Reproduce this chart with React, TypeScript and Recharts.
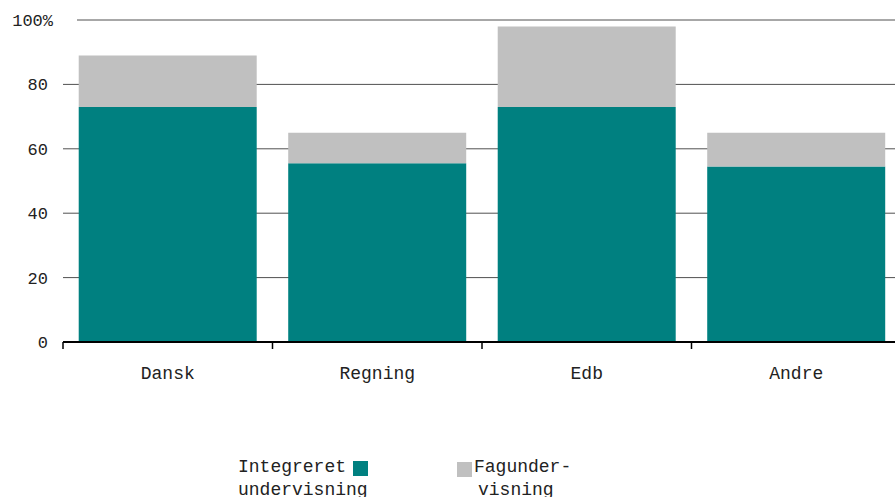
import { BarChart, Bar, XAxis, YAxis, CartesianGrid, Legend } from "recharts";

const categories = ["Dansk", "Regning", "Edb", "Andre"];
const integreret = [73, 55.5, 73, 54.5];
const fagundervisning = [16, 9.5, 25, 10.5];
const yTicks = [0, 20, 40, 60, 80, 100];

const TEAL = "#008080";
const GREY = "#c0c0c0";
const MONO = "'Liberation Mono', 'DejaVu Sans Mono', monospace";
const TOP = 20;

const data = categories.map((c, i) => ({
  name: c,
  integ: integreret[i],
  fag: fagundervisning[i],
}));

const YTick = ({ x, y, payload }: any) => {
  const isTop = payload.value === 100;
  return (
    <text
      x={isTop ? x + 5 : x}
      y={y}
      dy="0.35em"
      textAnchor="end"
      fontFamily={MONO}
      fontSize={17}
      fill="#222"
    >
      {isTop ? "100%" : payload.value}
    </text>
  );
};

const XTick = ({ x, y, payload }: any) => {
  const edge = x - (payload.offset ?? 0);
  return (
    <g>
      <line x1={edge} x2={edge} y1={y} y2={y + 7} stroke="#000" strokeWidth={1.5} />
      <text x={x} y={y + 31} dy="0.35em" textAnchor="middle" fontFamily={MONO} fontSize={18} fill="#222">
        {payload.value}
      </text>
    </g>
  );
};

const gridLine = (p: any) => (
  <line
    key={p.key ?? `h-${p.y1}`}
    x1={Math.abs(p.y1 - TOP) < 1 ? p.x1 + 14 : p.x1}
    x2={p.x2}
    y1={p.y1}
    y2={p.y2}
    stroke="#505050"
    strokeWidth={1}
  />
);

const renderLegend = ({ payload }: any) => {
  const teal = payload?.find((e: any) => e.dataKey === "integ");
  const grey = payload?.find((e: any) => e.dataKey === "fag");
  return (
    <div style={{ position: "relative", fontFamily: MONO, fontSize: 18, color: "#222", lineHeight: "23px", height: 60 }}>
      <div style={{ position: "absolute", left: 0, top: 0, whiteSpace: "pre" }}>{"Integreret\nundervisning"}</div>
      <div style={{ position: "absolute", left: 115, top: 5, width: 15, height: 15, background: teal?.color ?? TEAL }} />
      <div style={{ position: "absolute", left: 219, top: 6, width: 15, height: 15, background: grey?.color ?? GREY }} />
      <div style={{ position: "absolute", left: 236, top: 0, whiteSpace: "pre" }}>
        <div>Fagunder-</div>
        <div style={{ paddingLeft: 4 }}>visning</div>
      </div>
    </div>
  );
};

export default function App() {
  return (
    <div style={{ position: "absolute", left: 0, top: 0, width: 895, height: 497, background: "#fff", overflow: "hidden" }}>
      <BarChart
        width={895}
        height={497}
        data={data}
        margin={{ top: TOP, right: -6, left: 0, bottom: 45 }}
        barCategoryGap="7.5%"
      >
        <CartesianGrid vertical={false} horizontal={gridLine} />
        <XAxis
          dataKey="name"
          height={50}
          axisLine={{ stroke: "#000", strokeWidth: 2 }}
          tickLine={false}
          tickSize={0}
          tickMargin={0}
          tick={<XTick />}
          interval={0}
        />
        <YAxis
          width={63}
          domain={[0, 100]}
          ticks={yTicks}
          axisLine={false}
          tickLine={false}
          tickSize={0}
          tickMargin={15}
          tick={<YTick />}
          interval={0}
        />
        <Legend
          content={renderLegend}
          wrapperStyle={{ position: "absolute", left: 238, top: 456, width: 400 }}
        />
        <Bar dataKey="integ" name="Integreret undervisning" stackId="a" fill={TEAL} isAnimationActive={false} />
        <Bar dataKey="fag" name="Fagundervisning" stackId="a" fill={GREY} isAnimationActive={false} />
      </BarChart>
    </div>
  );
}
